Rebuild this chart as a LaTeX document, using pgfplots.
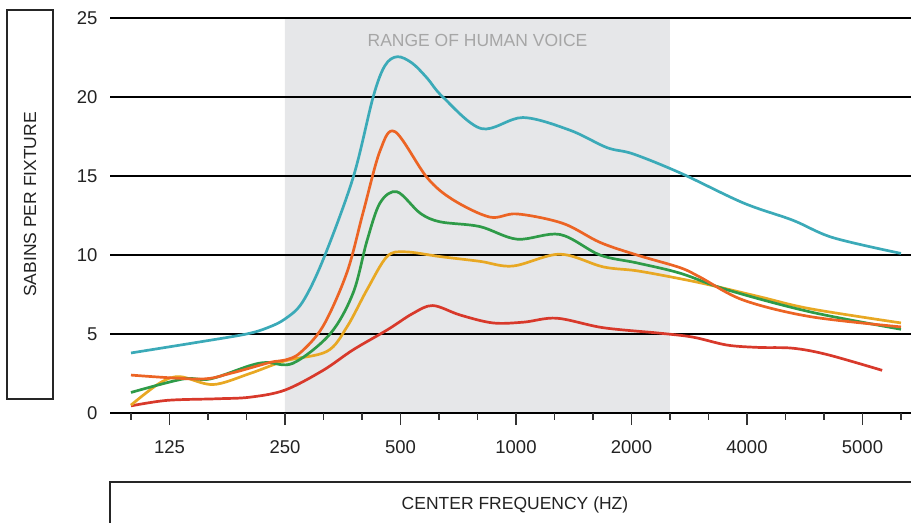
\documentclass[border=0pt]{standalone}
\usepackage{pgfplots}
\pgfplotsset{compat=1.18}
\usepackage{fontspec}
\setmainfont{Liberation Sans}
\definecolor{cteal}{HTML}{3BAAB8}
\definecolor{corange}{HTML}{EC6424}
\definecolor{cgreen}{HTML}{2E9B48}
\definecolor{cyellow}{HTML}{E8A823}
\definecolor{cred}{HTML}{D8392B}
\definecolor{cshade}{HTML}{E6E7E9}
\definecolor{ctext}{HTML}{222222}
\begin{document}
\begin{tikzpicture}
\begin{axis}[
  set layers=standard,
  at={(110bp,110bp)}, anchor=south west,
  scale only axis, width=801bp, height=395bp,
  xmin=-0.545, xmax=20.26, ymin=0, ymax=25,
  axis line style={draw=none},
  xtick={1,4,7,10,13,16,19},
  xticklabels={125,250,500,1000,2000,4000,5000},
  minor xtick={0,2,3,5,6,8,9,11,12,14,15,17,18,20},
  xtick pos=bottom, tick align=outside,
  major tick length=12bp, minor tick length=7bp,
  xtick style={line width=1.2bp, draw=black!80},
  minor tick style={line width=1.2bp, draw=black!80},
  ytick={0,5,10,15,20,25},
  ytick style={draw=none},
  ymajorgrids, major grid style={line width=1.3bp, draw=black},
  /pgf/number format/assume math mode=true,
  tick label style={font=\fontsize{18.5bp}{21bp}\selectfont, text=ctext},
  xticklabel style={yshift=-12bp},
  yticklabel style={xshift=3bp},
  every axis plot/.append style={line width=2.7bp, smooth, tension=0.55},
  clip=false,
]
\addplot[on layer=axis background, fill=cshade, draw=none, sharp plot] coordinates {(4,0) (4,25) (14,25) (14,0)} \closedcycle;
\addplot[cred] coordinates {(0,0.45) (0.94,0.8) (2.23,0.9) (3.09,1.0) (4.0,1.45) (4.99,2.7) (5.77,4.0) (6.65,5.25) (7.32,6.3) (7.84,6.8) (8.55,6.2) (9.40,5.7) (10.2,5.75) (11.06,6.0) (12.26,5.4) (13.74,5.05) (14.6,4.8) (15.48,4.3) (16.3,4.15) (17.19,4.1) (18.08,3.7) (19.51,2.7)};
\addplot[cyellow] coordinates {(0,0.5) (0.75,1.9) (1.27,2.3) (2.13,1.8) (3.09,2.5) (4.0,3.3) (5.09,3.9) (5.61,5.45) (6.13,7.8) (6.65,9.9) (7.12,10.2) (8.03,9.9) (9.06,9.6) (9.92,9.3) (11.14,10.05) (12.26,9.25) (13.14,9.0) (14.26,8.5) (15.04,8.1) (16.34,7.35) (17.64,6.6) (20.0,5.7)};
\addplot[cgreen] coordinates {(0,1.3) (1.35,2.15) (2.05,2.15) (3.09,3.0) (3.53,3.2) (4.21,3.15) (5.17,5.0) (5.77,7.6) (6.13,10.9) (6.47,13.3) (6.91,14.0) (7.51,12.65) (8.03,12.1) (9.06,11.8) (10.03,11.0) (11.14,11.3) (12.18,10.0) (13.14,9.5) (14.26,8.85) (15.48,7.8) (17.64,6.4) (20.0,5.3)};
\addplot[corange] coordinates {(0,2.4) (1.79,2.15) (2.57,2.5) (3.61,3.2) (4.0,3.35) (4.39,3.8) (4.99,5.5) (5.61,8.9) (6.03,12.7) (6.47,16.6) (6.86,17.8) (7.69,14.9) (8.36,13.5) (9.32,12.4) (10.03,12.6) (11.22,12.0) (12.18,10.8) (13.14,10.0) (14.26,9.2) (14.78,8.6) (15.90,7.15) (17.64,6.1) (20.0,5.45)};
\addplot[cteal] coordinates {(0,3.8) (1.79,4.5) (3.0,5.0) (3.55,5.4) (4.0,5.95) (4.45,7.0) (4.99,9.7) (5.77,14.9) (6.29,20.0) (6.6,22.0) (6.92,22.55) (7.3,22.15) (7.69,21.2) (8.10,20.0) (9.10,18.0) (10.18,18.7) (11.40,17.9) (12.36,16.8) (13.04,16.4) (14.26,15.2) (15.90,13.3) (17.19,12.2) (18.23,11.1) (20.0,10.1)};
\node[font=\fontsize{17.5bp}{20bp}\selectfont, text=black!35] at (axis cs:9,23.6) {RANGE OF HUMAN VOICE};
\end{axis}
\draw[line width=1.3bp, black!85] (7bp,124bp) rectangle (53bp,513bp);
\node[rotate=90, font=\fontsize{17.5bp}{20bp}\selectfont, text=ctext] at (30bp,318.5bp) {SABINS PER FIXTURE};
\draw[line width=1.3bp, black!85] (110bp,-5bp) -- (110bp,41bp) -- (915bp,41bp);
\node[font=\fontsize{17.5bp}{20bp}\selectfont, text=ctext] at (515bp,18bp) {CENTER FREQUENCY (HZ)};
\pgfresetboundingbox
\path[use as bounding box] (0,0) rectangle (911bp,523bp);
\end{tikzpicture}
\end{document}
